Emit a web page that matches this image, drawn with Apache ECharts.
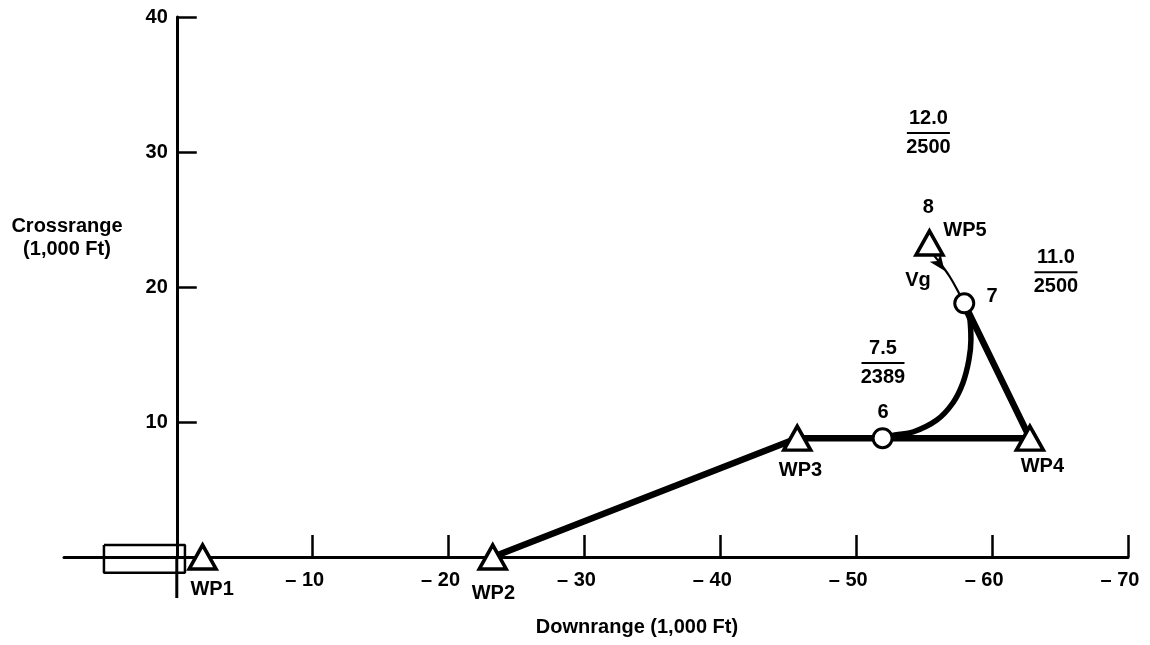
<!DOCTYPE html>
<html><head><meta charset="utf-8">
<script src="https://cdn.jsdelivr.net/npm/echarts@6/dist/echarts.min.js"></script>
<style>html,body{margin:0;padding:0;background:#fff}#c{width:1150px;height:645px}</style>
</head><body><div id="c"></div>
<script>
// ---- data (1,000 ft) ----
const xTickValues = [-70, -60, -50, -40, -30, -20, -10];
const yTickValues = [10, 20, 30, 40];

const wpNames = ['WP1', 'WP2', 'WP3', 'WP4', 'WP5'];
const wpX = [-1.9, -23.25, -45.66, -62.78, -55.39];
const wpY = [0, 0, 8.8, 8.8, 23.26];

const nodeNames = ['6', '7'];
const nodeX = [-51.94, -57.95];
const nodeY = [8.8, 18.79];

// WP2 -> WP3 -> 6 -> WP4 -> 7
const routeX = [-23.25, -45.66, -51.94, -62.78, -57.95];
const routeY = [0, 8.8, 8.8, 8.8, 18.79];

// turn from 6 to 7
const turnX = [-51.94, -52.85, -54.17, -55.93, -57.11, -57.85, -58.29, -58.44, -58.37, -58.07, -57.95];
const turnY = [8.8, 9.04, 9.26, 10.15, 11.41, 12.89, 14.59, 16.07, 17.56, 18.30, 18.79];

// 7 -> WP5 (Vg)
const finalX = [-57.95, -57.63, -56.90, -56.16, -55.57, -55.39];
const finalY = [18.79, 19.41, 20.74, 21.78, 22.59, 23.26];
const arrowX = [-56.5];
const arrowY = [21.2];

// runway box
const runwayX = [5.36, -0.6, -0.6, 5.36, 5.36];
const runwayY = [0.89, 0.89, -1.16, -1.16, 0.89];

// annotation texts
const noteText = ['8', 'WP5', 'Vg', '7', '6', 'WP3', 'WP4', 'WP2', 'WP1'];
const noteX = [-55.3, -58.0, -54.55, -60.0, -51.97, -45.9, -63.7, -23.3, -2.6];
const noteY = [25.9, 24.2, 20.5, 19.3, 10.67, 6.44, 6.67, -2.67, -2.44];

const fracNum = ['12.0', '11.0', '7.5'];
const fracDen = ['2500', '2500', '2389'];
const fracX = [-55.31, -64.7, -51.97];
const fracY = [31.4, 21.1, 14.37];

// ---- chart ----
const FONT = '"Liberation Sans", Arial, Helvetica, sans-serif';
const zip = (xs, ys) => xs.map((x, i) => [x, ys[i]]);
const GRID_L = 64, GRID_R = 22, X_MIN = -70, X_MAX = 8.3;
const pxPerUnit = (1150 - GRID_L - GRID_R) / (X_MAX - X_MIN);

const chart = echarts.init(document.getElementById('c'), null, {renderer: 'canvas'});
chart.setOption({
  animation: false,
  backgroundColor: '#fff',
  textStyle: {fontFamily: FONT, color: '#000', fontWeight: 'bold'},
  grid: {left: GRID_L, right: GRID_R, top: 17, bottom: 88, containLabel: false},
  xAxis: {
    type: 'value', inverse: true, min: X_MIN, max: X_MAX, interval: 10,
    axisLine: {show: true, onZero: true, lineStyle: {color: '#000', width: 3}},
    axisTick: {show: true, inside: true, length: 22, customValues: xTickValues,
      lineStyle: {color: '#000', width: 2.5}},
    axisLabel: {show: true, customValues: xTickValues, margin: 13,
      formatter: v => '\u2013 ' + Math.abs(v),
      fontFamily: FONT, fontSize: 20, fontWeight: 'bold', color: '#000', padding: [0, 16, 0, 0]},
    splitLine: {show: false}
  },
  yAxis: {
    type: 'value', min: 0, max: 40, interval: 10, position: 'left',
    offset: -(X_MAX * pxPerUnit),
    axisLine: {show: true, onZero: false, lineStyle: {color: '#000', width: 3}},
    axisTick: {show: true, inside: true, length: 20, customValues: yTickValues,
      lineStyle: {color: '#000', width: 2.5}},
    axisLabel: {show: true, customValues: yTickValues, margin: 9,
      fontFamily: FONT, fontSize: 20, fontWeight: 'bold', color: '#000'},
    splitLine: {show: false}
  },
  graphic: [
    {type: 'text', x: 67, y: 215, style: {
      text: 'Crossrange\n(1,000 Ft)', align: 'center',
      font: 'bold 20px ' + FONT, lineHeight: 23, fill: '#000'}},
    {type: 'text', x: 637, y: 617, style: {
      text: 'Downrange (1,000 Ft)', align: 'center', font: 'bold 20px ' + FONT, fill: '#000'}}
  ],
  series: [
    {type: 'line', name: 'runway', data: zip(runwayX, runwayY), clip: false,
      symbol: 'none', lineStyle: {color: '#000', width: 2.5}, z: 3},
    {type: 'line', name: 'yAxisBelow', data: [[0, 0], [0, -3.04]], clip: false,
      symbol: 'none', lineStyle: {color: '#000', width: 3}, z: 3},
    {type: 'line', name: 'route', data: zip(routeX, routeY), clip: false,
      symbol: 'none', lineStyle: {color: '#000', width: 6.5, join: 'round'}, z: 4},
    {type: 'line', name: 'turn', data: zip(turnX, turnY), smooth: 0.4, clip: false,
      symbol: 'none', lineStyle: {color: '#000', width: 5.5}, z: 4},
    {type: 'line', name: 'final', data: zip(finalX, finalY), smooth: 0.4, clip: false,
      symbol: 'none', lineStyle: {color: '#000', width: 2.2}, z: 4},
    {type: 'scatter', name: 'arrow', data: zip(arrowX, arrowY), symbol: 'arrow', clip: false,
      symbolSize: [10, 16], symbolRotate: -144, itemStyle: {color: '#000', opacity: 1}, z: 5},
    {type: 'scatter', name: 'waypoints', data: zip(wpX, wpY), clip: false,
      symbol: 'triangle', symbolSize: [27, 24],
      itemStyle: {color: '#fff', borderColor: '#000', borderWidth: 3.5, opacity: 1}, z: 6},
    {type: 'scatter', name: 'nodes', data: zip(nodeX, nodeY), clip: false,
      symbol: 'circle', symbolSize: [19, 19],
      itemStyle: {color: '#fff', borderColor: '#000', borderWidth: 3, opacity: 1}, z: 6},
    {type: 'scatter', name: 'notes', clip: false, silent: true,
      data: noteText.map((t, i) => ({value: [noteX[i], noteY[i]], name: t})),
      symbolSize: 1, itemStyle: {color: 'rgba(0,0,0,0)', opacity: 1}, z: 7,
      label: {show: true, position: 'inside', formatter: p => p.name, opacity: 1,
        fontFamily: FONT, fontSize: 20, fontWeight: 'bold', color: '#000'}},
    {type: 'scatter', name: 'fractions', clip: false, silent: true,
      data: fracNum.map((t, i) => ({value: [fracX[i], fracY[i]], name: t + '|' + fracDen[i]})),
      symbolSize: 1, itemStyle: {color: 'rgba(0,0,0,0)', opacity: 1}, z: 7,
      label: {show: true, position: 'inside', opacity: 1,
        formatter: p => { const s = p.name.split('|'); return '{n|' + s[0] + '}\n{b| }\n{d|' + s[1] + '}'; },
        rich: {
          n: {fontFamily: FONT, fontSize: 20, fontWeight: 'bold', lineHeight: 24, color: '#000', align: 'center'},
          b: {width: 43, height: 2, lineHeight: 5, fontSize: 2, backgroundColor: '#000', align: 'center'},
          d: {fontFamily: FONT, fontSize: 20, fontWeight: 'bold', lineHeight: 24, color: '#000', align: 'center'}
        }}}
  ]
});
</script>
</body></html>
